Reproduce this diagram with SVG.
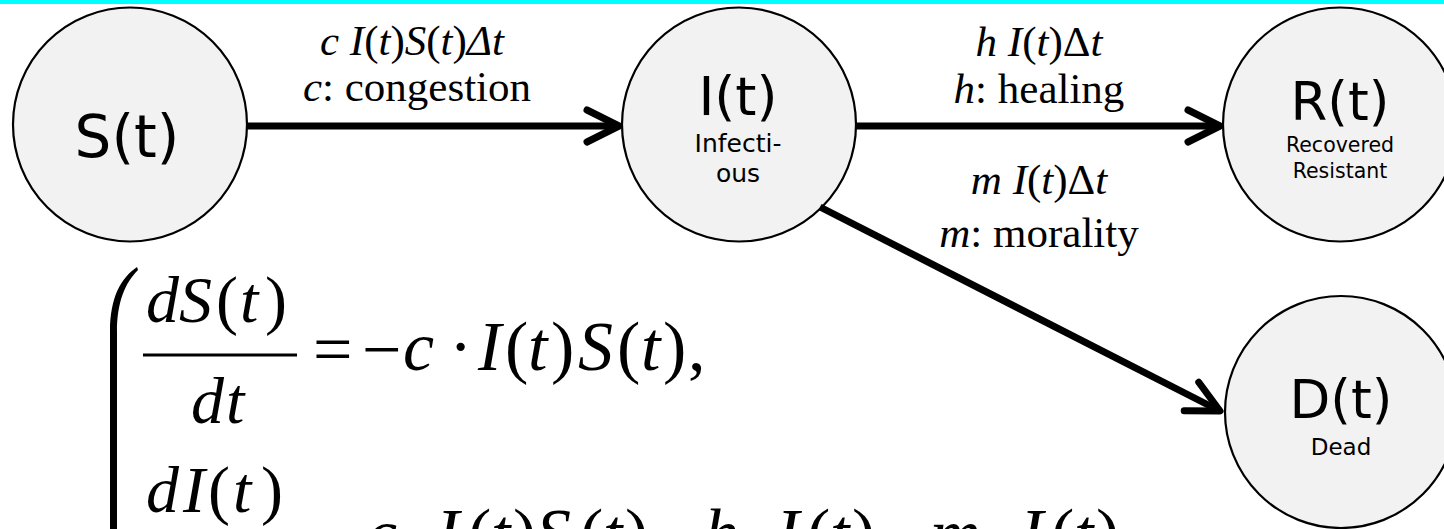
<svg xmlns="http://www.w3.org/2000/svg" width="1444" height="529" viewBox="0 0 1444 529">
<style>
.node{fill:#f2f2f2;stroke:#000;stroke-width:2.2}
.nt{font-family:Verdana,"DejaVu Sans",sans-serif;fill:#000;text-anchor:middle}
.lbl{font-family:"Liberation Serif","Times New Roman",serif;font-size:43px;fill:#000;text-anchor:middle}
.eq{font-family:"Liberation Serif","Times New Roman",serif;fill:#000}
.it{font-style:italic}
.edge{fill:none;stroke:#000;stroke-width:7}
</style>
<defs>
<marker id="arr" markerUnits="userSpaceOnUse" viewBox="-40 -24 48 48" refX="0" refY="0" markerWidth="48" markerHeight="48" orient="auto" overflow="visible">
<path d="M-32,-16 L0,0 L-32,16" fill="none" stroke="#000" stroke-width="7" stroke-linecap="round" stroke-linejoin="round"/>
</marker>
</defs>
<rect x="0" y="0" width="1444" height="4" fill="#00ffff"/>
<g id="node-S">
<circle class="node" cx="130" cy="124.5" r="117"/>
<text class="nt" x="127" y="157" font-size="58">S(t)</text>
</g>
<g id="node-I">
<circle class="node" cx="739" cy="124.5" r="117"/>
<text class="nt" x="738" y="115" font-size="54">I(t)</text>
<text class="nt" x="738" y="152" font-size="25">Infecti-</text>
<text class="nt" x="738" y="182" font-size="25">ous</text>
</g>
<g id="node-R">
<circle class="node" cx="1340" cy="124.5" r="117"/>
<text class="nt" x="1340" y="120" font-size="53">R(t)</text>
<text class="nt" x="1340" y="152" font-size="20.5">Recovered</text>
<text class="nt" x="1340" y="178" font-size="20.5">Resistant</text>
</g>
<g id="node-D">
<circle class="node" cx="1341" cy="412" r="116"/>
<text class="nt" x="1341" y="418" font-size="53">D(t)</text>
<text class="nt" x="1341" y="455" font-size="23">Dead</text>
</g>
<g id="connectors">
<path class="edge" d="M247,126 L619,126" marker-end="url(#arr)"/>
<path class="edge" d="M856,126 L1220,126" marker-end="url(#arr)"/>
<path class="edge" d="M820,207 L1220,411" marker-end="url(#arr)"/>
<text class="lbl" x="412" y="55"><tspan class="it">c I</tspan>(<tspan class="it">t</tspan>)<tspan class="it">S</tspan>(<tspan class="it">t</tspan>)<tspan class="it">Δt</tspan></text>
<text class="lbl" x="417" y="101"><tspan class="it">c</tspan>: congestion</text>
<text class="lbl" x="1039" y="56"><tspan class="it">h I</tspan>(<tspan class="it">t</tspan>)Δ<tspan class="it">t</tspan></text>
<text class="lbl" x="1039" y="103"><tspan class="it">h</tspan>: healing</text>
<text class="lbl" x="1039" y="194"><tspan class="it">m I</tspan>(<tspan class="it">t</tspan>)Δ<tspan class="it">t</tspan></text>
<text class="lbl" x="1039" y="247"><tspan class="it">m</tspan>: morality</text>
</g>
<g id="equations">
<path d="M137,267 C121,278 110,297 110,332 L110,529 L117,529 L117,332 C117,302 125,283 138,270 Z" fill="#000"/>
<text class="eq" font-size="66" y="322"><tspan x="146" class="it">d</tspan><tspan x="179" class="it">S</tspan><tspan x="216">(</tspan><tspan x="240" class="it">t</tspan><tspan x="265">)</tspan></text>
<rect x="143" y="353.5" width="154" height="3" fill="#000"/>
<text class="eq" font-size="66" y="423"><tspan x="191" class="it">d</tspan><tspan x="226" class="it">t</tspan></text>
<text class="eq" font-size="70" y="370"><tspan x="313" y="373">=</tspan><tspan x="362" y="373">−</tspan><tspan x="403" y="370" class="it">c</tspan><tspan x="449">·</tspan><tspan x="478" class="it">I</tspan><tspan x="505">(</tspan><tspan x="528" class="it">t</tspan><tspan x="551">)</tspan><tspan x="578" class="it">S</tspan><tspan x="617">(</tspan><tspan x="641" class="it">t</tspan><tspan x="663">)</tspan><tspan x="688">,</tspan></text>
<text class="eq" font-size="66" y="512"><tspan x="146" class="it">d</tspan><tspan x="183" class="it">I</tspan><tspan x="208">(</tspan><tspan x="233" class="it">t</tspan><tspan x="261">)</tspan></text>
<text class="eq" font-size="70" y="556"><tspan x="313" y="570">=</tspan><tspan x="366" y="557" class="it">c</tspan><tspan x="412">·</tspan><tspan x="436" class="it">I</tspan><tspan x="468">(</tspan><tspan x="491" class="it">t</tspan><tspan x="513">)</tspan><tspan x="536" class="it">S</tspan><tspan x="580">(</tspan><tspan x="603" class="it">t</tspan><tspan x="625">)</tspan><tspan x="655">−</tspan><tspan x="704" class="it">h</tspan><tspan x="746">·</tspan><tspan x="776" class="it">I</tspan><tspan x="807">(</tspan><tspan x="830" class="it">t</tspan><tspan x="852">)</tspan><tspan x="880">−</tspan><tspan x="930" class="it">m</tspan><tspan x="988">·</tspan><tspan x="1020" class="it">I</tspan><tspan x="1051">(</tspan><tspan x="1074" class="it">t</tspan><tspan x="1096">)</tspan></text>
</g>
</svg>
